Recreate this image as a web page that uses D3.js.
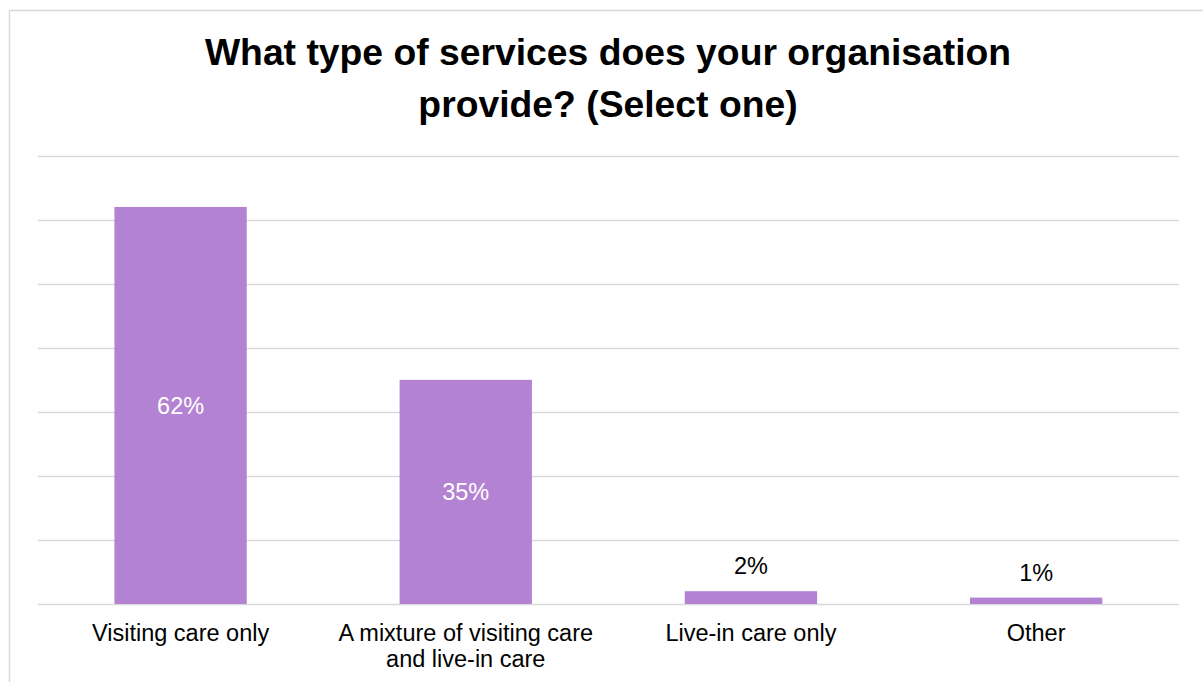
<!DOCTYPE html>
<html>
<head>
<meta charset="utf-8">
<script src="https://cdn.jsdelivr.net/npm/d3@7"></script>
<style>
  html, body { margin: 0; padding: 0; background: #ffffff; }
  svg { display: block; font-family: Arial, "Liberation Sans", sans-serif; }
</style>
</head>
<body>
<svg id="chart" width="1203" height="682"></svg>
<script>
// Survey responses: share of organisations by service type
const categories = [
  ["Visiting care only"],
  ["A mixture of visiting care", "and live-in care"],
  ["Live-in care only"],
  ["Other"]
];
const values = [62, 35, 2, 1];
const yTicks = [0, 10, 20, 30, 40, 50, 60, 70];
const titleLines = ["What type of services does your organisation", "provide? (Select one)"];

const W = 1203, H = 682;
const plot = { left: 38, right: 1178.7, top: 155.7, bottom: 604 };
const barColor = "#b482d3";
const gridColor = "#d9d9d9";

const svg = d3.select("#chart");

// chart frame
svg.append("rect")
  .attr("x", 9.5).attr("y", 10.5)
  .attr("width", W).attr("height", H)
  .attr("fill", "#ffffff")
  .attr("stroke", gridColor).attr("stroke-width", 1.5);

// title
svg.append("text")
  .attr("x", 608).attr("y", 65)
  .attr("text-anchor", "middle")
  .attr("font-size", 37.3).attr("font-weight", "bold").attr("fill", "#000")
  .selectAll("tspan").data(titleLines).join("tspan")
  .attr("x", 608).attr("dy", (d, i) => i === 0 ? 0 : 51.5)
  .text(d => d);

const keys = categories.map((c, i) => i);
const x = d3.scaleBand()
  .domain(keys)
  .range([plot.left, plot.right])
  .paddingInner(0.536)
  .paddingOuter(0.268);

const y = d3.scaleLinear().domain([0, 70]).range([plot.bottom, plot.top]);

// horizontal gridlines
svg.append("g").selectAll("line").data(yTicks).join("line")
  .attr("x1", plot.left).attr("x2", plot.right)
  .attr("y1", d => Math.round(y(d)) + 0.5).attr("y2", d => Math.round(y(d)) + 0.5)
  .attr("stroke", gridColor).attr("stroke-width", 1.5);

// bars
svg.append("g").selectAll("rect").data(values).join("rect")
  .attr("x", (d, i) => x(i))
  .attr("width", x.bandwidth())
  .attr("y", d => y(d))
  .attr("height", d => y(0) - y(d))
  .attr("fill", barColor);

// value labels: centred in tall bars, above short ones
const labelSize = 23.5;
svg.append("g").selectAll("text").data(values).join("text")
  .attr("x", (d, i) => x(i) + x.bandwidth() / 2)
  .attr("y", d => {
    const h = y(0) - y(d);
    return h > 40 ? (y(d) + y(0)) / 2 + labelSize * 0.36 : y(d) - 17;
  })
  .attr("text-anchor", "middle")
  .attr("font-size", labelSize)
  .attr("fill", d => (y(0) - y(d)) > 40 ? "#ffffff" : "#000000")
  .text(d => d + "%");

// category axis labels
const catG = svg.append("g");
categories.forEach((lines, i) => {
  const t = catG.append("text")
    .attr("x", x(i) + x.bandwidth() / 2)
    .attr("y", 640.7)
    .attr("text-anchor", "middle")
    .attr("font-size", labelSize)
    .attr("fill", "#000");
  t.selectAll("tspan").data(lines).join("tspan")
    .attr("x", x(i) + x.bandwidth() / 2)
    .attr("dy", (d, j) => j === 0 ? 0 : 26.5)
    .text(d => d);
});
</script>
</body>
</html>
